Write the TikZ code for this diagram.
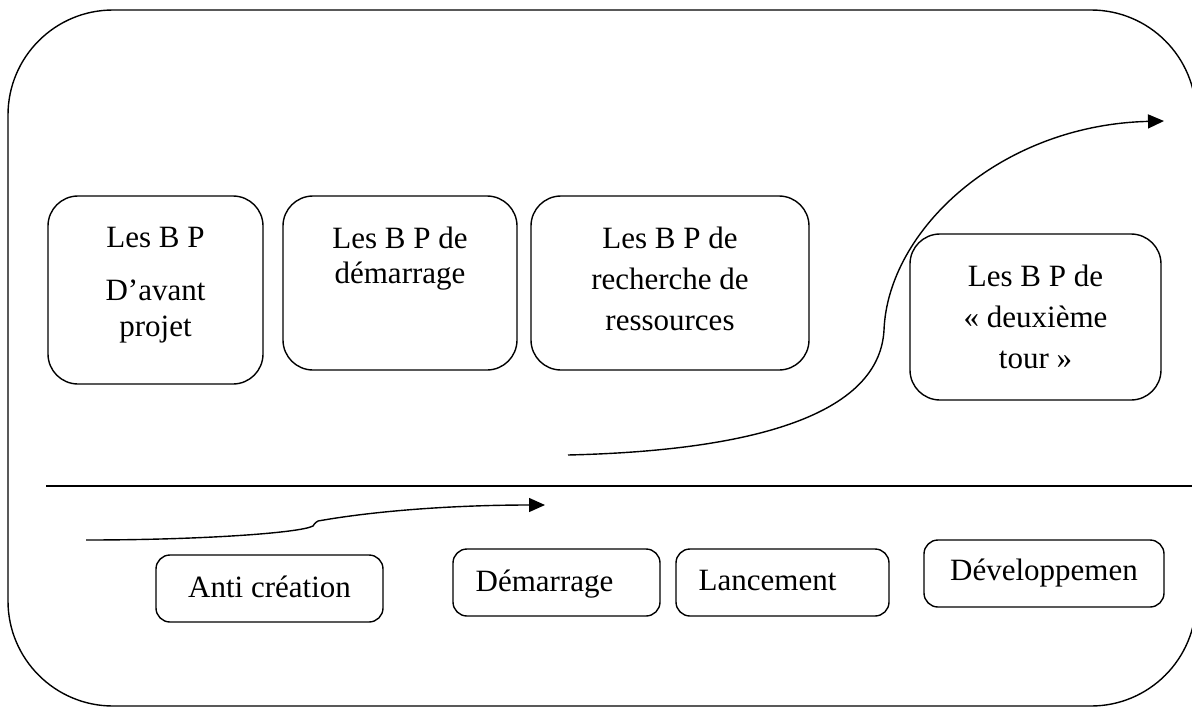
\documentclass[tikz,border=0pt]{standalone}
\usepackage{fontspec}
\setmainfont{Liberation Serif}
\usetikzlibrary{arrows.meta}
\begin{document}
\begin{tikzpicture}[x=1pt,y=-1pt,
  line width=1.4pt,
  bigbox/.style={draw, rounded corners=30pt, inner sep=0pt},
  smallbox/.style={draw, rounded corners=14pt, inner sep=0pt},
  lbl/.style={anchor=north, align=center, inner sep=0pt,
              font=\fontsize{31}{41}\selectfont},
  phase/.style={anchor=center, inner sep=0pt,
              font=\fontsize{31}{37}\selectfont},
  tip/.style={-{Triangle[length=16pt,width=14pt]}}
]
\useasboundingbox (0,0) rectangle (1192,707);

% outer frame
\draw[rounded corners=105pt] (8,10) rectangle (1196,706);

% separator between plans and phases
\coordinate (sepL) at (46,486);
\coordinate (sepR) at (1194,486);
\draw (sepL) -- (sepR);

% business-plan boxes
\node[bigbox, minimum width=215pt, minimum height=188pt] (b1) at (155.5,290) {};
\node[bigbox, minimum width=234pt, minimum height=174pt] (b2) at (400,283) {};
\node[bigbox, minimum width=278pt, minimum height=174pt] (b3) at (670,283) {};
\node[bigbox, minimum width=251pt, minimum height=166pt] (b4) at (1035.5,317) {};

\node[lbl, font=\fontsize{31}{36}\selectfont] (t1) at ([yshift=-31pt]b1.north) {Les B P\\[17pt] D’avant\\ projet};
\node[lbl, font=\fontsize{31}{35}\selectfont] (t2) at ([yshift=-31pt]b2.north) {Les B P de\\ démarrage};
\node[lbl] (t3) at ([yshift=-31pt]b3.north) {Les B P de\\ recherche de\\ ressources};
\node[lbl] (t4) at ([yshift=-31pt]b4.north) {Les B P de\\ « deuxième\\ tour »};

% phase boxes
\node[smallbox, minimum width=227pt, minimum height=67pt] (p1) at (269.5,588.5) {};
\node[smallbox, minimum width=207pt, minimum height=67pt] (p2) at (556.5,582.5) {};
\node[smallbox, minimum width=213pt, minimum height=67pt] (p3) at (782.5,582.5) {};
\node[smallbox, minimum width=240pt, minimum height=67pt] (p4) at (1044,573.5) {};

\node[phase] (q1) at ([yshift=2pt]p1.center) {Anti création};
\node[phase] (q2) at ([xshift=-12pt,yshift=-2pt]p2.center) {Démarrage};
\node[phase] (q3) at ([xshift=-15pt,yshift=2pt]p3.center) {Lancement};
\node[phase] (q4) at ([yshift=0pt]p4.center) {Développemen};

% growth curve of the plans
\coordinate (sA) at (568,455);
\coordinate (sM) at (884,330);
\coordinate (sB) at (1164,121);
\draw[tip] (sA) .. controls (780,450) and (880,405) .. (sM)
               .. controls (888,230) and (1000,125) .. (sB);

% progression of the phases
\coordinate (pA) at (86,540);
\coordinate (pK) at (318,521);
\coordinate (pB) at (545,505);
\draw[tip] (pA) .. controls (200,540) and (300,533) .. (313,526)
               .. controls (315,523) and (316,522) .. (pK)
               .. controls (380,510) and (460,505) .. (pB);
\end{tikzpicture}
\end{document}
